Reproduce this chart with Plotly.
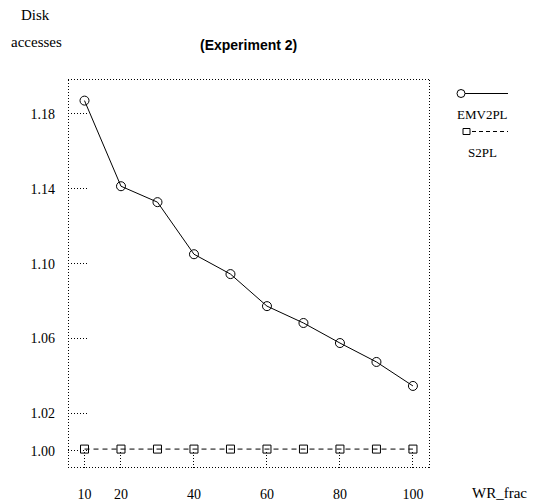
""" Disk accesses vs WR_frac (Experiment 2) """
import math
import plotly.graph_objects as go

# data
wr_frac = [10, 20, 30, 40, 50, 60, 70, 80, 90, 100]
emv2pl = [1.187, 1.1413, 1.1328, 1.105, 1.0944, 1.0773, 1.0683, 1.0576, 1.0475, 1.0347]
s2pl = [1.001, 1.001, 1.001, 1.001, 1.001, 1.001, 1.001, 1.001, 1.001, 1.001]

x_ticks = [10, 20, 40, 60, 80, 100]
y_ticks = [1.00, 1.02, 1.06, 1.10, 1.14, 1.18]
y_tick_text = ['1.00', '1.02', '1.06', '1.10', '1.14', '1.18']

X_RANGE = [5.48, 104.4]
Y_RANGE = [0.9909, 1.198]

SERIF = 'Liberation Serif, Times New Roman, serif'
BLACK = '#000000'
DOTS = '1px,2px'

# the page body adds an 8px margin, so the figure is drawn 8px smaller
BODY = 8
PLOT_L, PLOT_T, PLOT_W, PLOT_H = 68, 80, 361, 388   # plot area in window pixels

fig = go.Figure()
fig.add_trace(go.Scatter(
    x=wr_frac, y=emv2pl, mode='lines+markers', name='EMV2PL',
    line={'color': BLACK, 'width': 1},
    marker={'symbol': 'circle-open', 'size': 9, 'color': BLACK, 'line': {'width': 1}},
))
fig.add_trace(go.Scatter(
    x=wr_frac, y=s2pl, mode='lines+markers', name='S2PL',
    line={'color': BLACK, 'width': 1, 'dash': '5px,4px'},
    marker={'symbol': 'square-open', 'size': 8, 'color': BLACK, 'line': {'width': 1}},
))

# half a pixel in paper units, so 1px dotted lines land on whole pixels
hx, hy = 0.5 / PLOT_W, 0.5 / PLOT_H

def snap_x(v):
    """ data x -> paper x placed on a pixel centre """
    p = (v - X_RANGE[0]) / (X_RANGE[1] - X_RANGE[0]) * PLOT_W
    return (math.floor(p) + 0.5) / PLOT_W

def snap_y(v):
    """ data y -> paper y placed on a pixel centre """
    p = (Y_RANGE[1] - v) / (Y_RANGE[1] - Y_RANGE[0]) * PLOT_H
    return 1 - (math.floor(p) + 0.5) / PLOT_H

def dotted(x0, x1, y0, y1):
    return dict(type='line', xref='paper', yref='paper', x0=x0, x1=x1, y0=y0, y1=y1,
                line={'color': BLACK, 'width': 1, 'dash': DOTS})

shapes = []
# dotted frame, one edge at a time
shapes.append(dotted(0, 1, hy, hy))
shapes.append(dotted(0, 1, 1 + hy, 1 + hy))
shapes.append(dotted(hx, hx, 0, 1))
shapes.append(dotted(1 + hx, 1 + hx, 0, 1))
# dotted tick marks going inwards
for v in y_ticks:
    shapes.append(dotted(0, 20 / PLOT_W, snap_y(v), snap_y(v)))
for v in x_ticks:
    shapes.append(dotted(snap_x(v), snap_x(v), 0, 18 / PLOT_H))

# window pixel -> paper coordinate
def px_x(px):
    return (px - PLOT_L) / PLOT_W

def px_y(py):
    return (PLOT_T + PLOT_H - py) / PLOT_H

# hand-made legend (symbol above text)
shapes.append(dict(type='line', xref='paper', yref='paper', x0=px_x(465), x1=px_x(508),
                   y0=px_y(93.5), y1=px_y(93.5), line={'color': BLACK, 'width': 1}))
shapes.append(dict(type='circle', xref='paper', yref='paper', xsizemode='pixel', ysizemode='pixel',
                   xanchor=px_x(461), yanchor=px_y(93.5), x0=-4, x1=4, y0=-4, y1=4,
                   line={'color': BLACK, 'width': 1}))
shapes.append(dict(type='line', xref='paper', yref='paper', x0=px_x(472), x1=px_x(508),
                   y0=px_y(131.5), y1=px_y(131.5),
                   line={'color': BLACK, 'width': 1, 'dash': '4px,3px'}))
shapes.append(dict(type='rect', xref='paper', yref='paper', xsizemode='pixel', ysizemode='pixel',
                   xanchor=px_x(466.5), yanchor=px_y(131.5), x0=-3.5, x1=3.5, y0=-3, y1=3,
                   line={'color': BLACK, 'width': 1}))

def label(text, x, y, size, family=SERIF):
    return dict(text=text, x=px_x(x), y=px_y(y), xref='paper', yref='paper',
                xanchor='center', yanchor='middle', showarrow=False,
                font={'family': family, 'size': size, 'color': BLACK})

annotations = [
    label('EMV2PL', 483, 114, 13),
    label('S2PL', 483, 152, 13),
    label('Disk', 35, 15, 15),
    label('accesses', 36, 42, 15),
    label('WR_frac', 499, 493, 15),
    label('<b>(Experiment 2)</b>', 248.5, 45, 14, 'Liberation Sans, Arial, sans-serif'),
]

fig_w, fig_h = 538 - BODY, 504 - BODY
fig.update_layout(
    width=fig_w, height=fig_h,
    margin={'l': PLOT_L - BODY, 't': PLOT_T - BODY,
            'r': fig_w - (PLOT_L - BODY) - PLOT_W,
            'b': fig_h - (PLOT_T - BODY) - PLOT_H, 'autoexpand': False},
    paper_bgcolor='white', plot_bgcolor='white',
    showlegend=False,
    font={'family': SERIF, 'size': 14, 'color': BLACK},
    xaxis={'range': X_RANGE, 'tickvals': x_ticks, 'showgrid': False,
           'zeroline': False, 'showline': False, 'ticks': '', 'automargin': False,
           'ticklabelstandoff': 16, 'tickfont': {'family': SERIF, 'size': 14}},
    yaxis={'range': Y_RANGE, 'tickvals': y_ticks, 'ticktext': y_tick_text,
           'showgrid': False, 'zeroline': False, 'showline': False, 'ticks': '',
           'automargin': False,
           'ticklabelstandoff': 12, 'tickfont': {'family': SERIF, 'size': 14}},
    shapes=shapes,
    annotations=annotations,
)

fig.write_html("out.html")
